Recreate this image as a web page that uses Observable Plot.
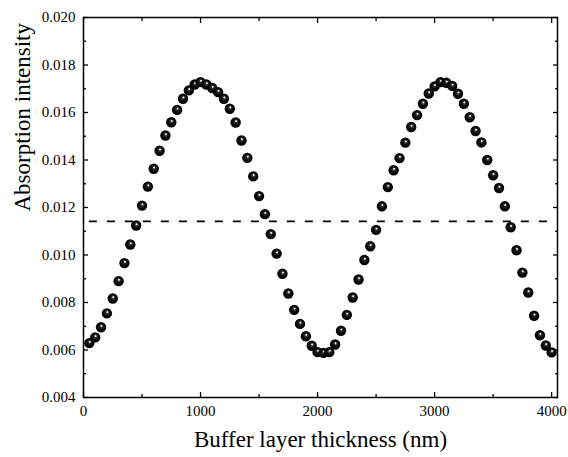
<!DOCTYPE html>
<html>
<head>
<meta charset="utf-8">
<script src="https://cdn.jsdelivr.net/npm/d3@7"></script>
<script src="https://cdn.jsdelivr.net/npm/@observablehq/plot@0.6"></script>
<style>
  html, body { margin: 0; padding: 0; background: white; }
  svg text { font-family: 'Liberation Serif', 'Times New Roman', serif !important; font-variant: normal !important; }
</style>
</head>
<body>
<div id="chart"></div>
<script>
// Buffer layer thickness (nm)
const thickness = [
  50, 100, 150, 200, 250, 300, 350, 400, 450, 500,
  550, 600, 650, 700, 750, 800, 850, 900, 950, 1000,
  1050, 1100, 1150, 1200, 1250, 1300, 1350, 1400, 1450, 1500,
  1550, 1600, 1650, 1700, 1750, 1800, 1850, 1900, 1950, 2000,
  2050, 2100, 2150, 2200, 2250, 2300, 2350, 2400, 2450, 2500,
  2550, 2600, 2650, 2700, 2750, 2800, 2850, 2900, 2950, 3000,
  3050, 3100, 3150, 3200, 3250, 3300, 3350, 3400, 3450, 3500,
  3550, 3600, 3650, 3700, 3750, 3800, 3850, 3900, 3950, 4000
];
// Absorption intensity
const absorption = [
  0.00629, 0.00653, 0.00696, 0.00754, 0.00817, 0.00890, 0.00966, 0.01044, 0.01124, 0.01208,
  0.01288, 0.01363, 0.01439, 0.01503, 0.01559, 0.01611, 0.01658, 0.01693, 0.01718, 0.01728,
  0.01718, 0.01703, 0.01686, 0.01658, 0.01616, 0.01558, 0.01482, 0.01409, 0.01331, 0.01248,
  0.01172, 0.01088, 0.01006, 0.00921, 0.00838, 0.00769, 0.00710, 0.00658, 0.00618, 0.00591,
  0.00588, 0.00591, 0.00623, 0.00681, 0.00748, 0.00821, 0.00897, 0.00979, 0.01037, 0.01106,
  0.01205, 0.01286, 0.01357, 0.01408, 0.01473, 0.01539, 0.01589, 0.01637, 0.01680, 0.01710,
  0.01728, 0.01725, 0.01712, 0.01679, 0.01637, 0.01580, 0.01522, 0.01474, 0.01400, 0.01336,
  0.01282, 0.01205, 0.01117, 0.01020, 0.00926, 0.00842, 0.00744, 0.00662, 0.00619, 0.00590
];
// Dashed reference level
const reference = [0.01142];

const xMajor = [0, 1000, 2000, 3000, 4000];
const xMinor = [500, 1500, 2500, 3500];
const yMajor = [0.004, 0.006, 0.008, 0.010, 0.012, 0.014, 0.016, 0.018, 0.020];
const yMinor = [0.005, 0.007, 0.009, 0.011, 0.013, 0.015, 0.017, 0.019];

const xLabel = "Buffer layer thickness (nm)";
const yLabel = "Absorption intensity";

const data = thickness.map((t, i) => ({t, a: absorption[i]}));
const xMin = d3.min(thickness), xMax = d3.max(thickness);

const font = "'Liberation Serif', 'Times New Roman', serif";

const chart = Plot.plot({
  width: 568,
  height: 457,
  marginLeft: 83,
  marginRight: 11,
  marginTop: 17,
  marginBottom: 60,
  style: {fontFamily: font, fontSize: "15px", background: "white", color: "black"},
  x: {domain: [0, 4050]},
  y: {domain: [0.004, 0.020]},
  marks: [
    // tick labels
    Plot.axisX({ticks: xMajor, tickSize: 0, tickPadding: 8, tickFormat: d3.format("d"), label: null, fontSize: 15, fontFamily: font}),
    Plot.axisY({ticks: yMajor, tickSize: 0, tickPadding: 8, tickFormat: d3.format(".3f"), label: null, fontSize: 15, fontFamily: font}),
    // inward ticks, all four sides
    Plot.axisX({ticks: xMajor, tickSize: -5, fill: "none", label: null, strokeWidth: 1.3}),
    Plot.axisX({ticks: xMinor, tickSize: -3, fill: "none", label: null, strokeWidth: 1.3}),
    Plot.axisX({anchor: "top", ticks: xMajor, tickSize: -5, fill: "none", label: null, strokeWidth: 1.3}),
    Plot.axisX({anchor: "top", ticks: xMinor, tickSize: -3, fill: "none", label: null, strokeWidth: 1.3}),
    Plot.axisY({ticks: yMajor, tickSize: -5, fill: "none", label: null, strokeWidth: 1.3}),
    Plot.axisY({ticks: yMinor, tickSize: -3, fill: "none", label: null, strokeWidth: 1.3}),
    Plot.axisY({anchor: "right", ticks: yMajor, tickSize: -5, fill: "none", label: null, strokeWidth: 1.3}),
    Plot.axisY({anchor: "right", ticks: yMinor, tickSize: -3, fill: "none", label: null, strokeWidth: 1.3}),
    // axis titles
    Plot.text([xLabel], {frameAnchor: "bottom", dy: 49, fontSize: 23, fill: "black", fontFamily: font}),
    Plot.text([yLabel], {frameAnchor: "left", dx: -61, dy: 4, rotate: -90, fontSize: 23, fill: "black", fontFamily: font}),
    // dashed reference
    Plot.ruleY(reference, {x1: () => xMin, x2: () => xMax, stroke: "black", strokeWidth: 1.8, strokeDasharray: "8,10"}),
    // data spheres
    Plot.dot(data, {x: "t", y: "a", r: 5.2, fill: "url(#ball)", stroke: "none"}),
    Plot.frame({stroke: "black", strokeWidth: 1.5})
  ]
});

const svg = d3.select(chart);
const grad = svg.insert("defs", ":first-child")
  .append("radialGradient")
  .attr("id", "ball")
  .attr("cx", "50%").attr("cy", "50%").attr("r", "50%")
  .attr("fx", "55%").attr("fy", "35%");
[[0, "#ffffff"], [0.1, "#e8e8e8"], [0.25, "#3a3a3a"], [0.55, "#0a0a0a"], [1, "#000000"]]
  .forEach(([o, c]) => grad.append("stop").attr("offset", o).attr("stop-color", c));

document.getElementById("chart").appendChild(chart);
</script>
</body>
</html>
